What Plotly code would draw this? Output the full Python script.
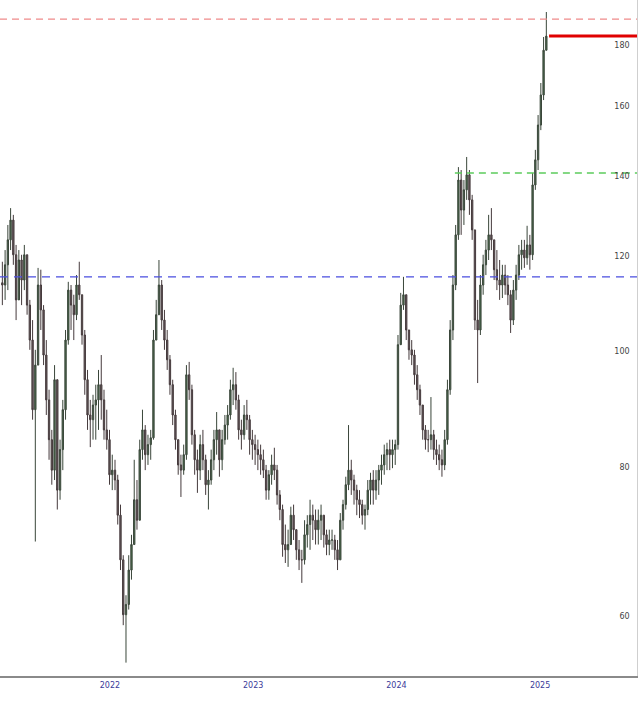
import pandas as pd
import plotly.graph_objects as go

# weekly bars, first week ending 2021-04-02
week_start = "2021-04-02"
first_open = 114.0

highs = [
    118.7, 121.4, 127.4, 131.6, 129.9, 122.6, 121.4, 120.3, 122.6, 120.3,
    110.3, 106.1, 100.2, 117.3, 116.9, 109.2, 102.1, 92.8, 85.9, 97.3,
    94.6, 84.3, 91.0, 104.1, 114.2, 113.5, 111.4, 115.7, 118.7, 111.4,
    104.1, 96.4, 91.0, 91.9, 93.7, 96.4, 99.2, 92.8, 89.3, 85.9,
    81.9, 81.1, 78.8, 74.4, 67.5, 62.5, 67.5, 70.2, 81.1, 78.0,
    84.3, 89.3, 86.7, 85.1, 85.9, 104.1, 110.3, 119.1, 114.6, 108.2,
    104.1, 99.2, 94.6, 89.3, 84.3, 81.9, 83.5, 97.3, 97.9, 93.7,
    85.9, 82.7, 85.1, 85.9, 81.9, 79.5, 82.7, 85.9, 88.9, 84.3,
    85.9, 88.4, 90.1, 94.6, 96.8, 96.0, 91.9, 87.6, 90.1, 91.0,
    88.4, 85.9, 85.1, 84.3, 83.5, 82.7, 80.3, 79.5, 81.9, 83.0,
    80.3, 76.5, 74.4, 71.6, 70.9, 74.1, 74.4, 70.9, 69.5, 68.2,
    72.2, 72.9, 75.1, 74.4, 73.7, 73.7, 74.4, 72.9, 70.9, 70.9,
    70.9, 70.2, 69.5, 73.2, 75.1, 78.5, 86.7, 81.1, 78.8, 77.3,
    76.5, 75.1, 74.4, 78.0, 79.1, 79.5, 79.5, 80.3, 81.9, 83.5,
    83.8, 84.3, 84.3, 84.3, 103.1, 111.8, 115.3, 110.3, 103.1, 102.1,
    100.2, 97.3, 93.7, 90.1, 86.7, 85.9, 91.5, 85.9, 84.3, 83.5,
    82.7, 85.9, 94.6, 106.1, 115.7, 127.4, 142.4, 141.6, 138.9, 145.2,
    141.6, 135.0, 126.2, 110.3, 115.7, 120.3, 123.8, 129.9, 131.6, 123.8,
    121.4, 119.1, 118.0, 118.0, 115.7, 112.4, 114.6, 118.0, 122.6, 123.8,
    123.8, 127.2, 125.0, 140.8, 147.2, 157.4, 167.4, 182.9, 191.9,
]

lows = [
    109.2, 110.3, 112.4, 121.4, 118.0, 106.1, 110.3, 109.2, 112.4, 107.2,
    100.2, 87.6, 69.3, 98.3, 104.1, 97.3, 88.4, 81.1, 77.3, 78.0,
    73.7, 75.1, 79.5, 87.6, 101.2, 104.1, 102.1, 106.1, 110.3, 101.2,
    91.9, 85.9, 83.1, 84.3, 84.3, 85.9, 87.6, 84.3, 82.7, 77.3,
    76.5, 76.5, 71.6, 65.6, 59.0, 54.9, 60.8, 64.4, 70.2, 70.9,
    72.2, 81.1, 79.5, 80.3, 81.1, 84.3, 104.1, 109.2, 104.1, 100.2,
    96.4, 91.9, 86.7, 82.7, 78.8, 75.5, 78.8, 81.1, 91.0, 83.5,
    78.8, 76.1, 78.0, 79.5, 75.8, 73.7, 77.3, 79.5, 81.9, 78.5,
    79.5, 83.5, 84.3, 87.6, 90.1, 89.3, 84.3, 82.7, 84.3, 85.9,
    81.9, 81.1, 80.3, 79.5, 78.8, 78.3, 75.1, 75.1, 77.3, 78.0,
    74.4, 72.2, 67.3, 66.5, 66.0, 68.9, 69.5, 66.9, 65.6, 64.0,
    66.3, 68.5, 68.2, 69.5, 68.9, 68.9, 69.5, 68.5, 67.5, 67.5,
    68.2, 66.9, 65.6, 66.9, 70.9, 73.7, 76.5, 75.8, 74.4, 72.9,
    72.5, 71.6, 70.9, 72.9, 74.4, 74.4, 75.1, 75.8, 77.3, 78.8,
    79.5, 79.5, 79.8, 80.3, 82.7, 102.1, 108.2, 102.1, 98.3, 97.3,
    93.7, 91.0, 88.4, 84.3, 82.7, 82.3, 82.7, 81.1, 80.3, 79.5,
    78.5, 79.5, 83.5, 91.9, 102.1, 112.4, 123.8, 125.0, 127.4, 133.7,
    129.9, 123.8, 104.1, 94.0, 103.1, 111.4, 115.7, 119.1, 121.4, 114.6,
    112.4, 110.3, 110.7, 111.4, 109.2, 103.5, 105.1, 110.3, 114.6, 116.9,
    117.3, 118.0, 116.9, 119.1, 136.3, 141.6, 152.9, 162.0, 178.3,
]

closes = [
    113.5, 118.0, 123.8, 128.6, 120.3, 110.3, 119.1, 114.6, 120.3, 109.2,
    102.1, 89.3, 97.3, 113.5, 108.2, 99.2, 91.0, 84.3, 79.5, 94.6,
    76.5, 82.7, 89.3, 102.1, 112.4, 109.2, 107.2, 113.5, 111.4, 103.1,
    94.6, 88.4, 87.6, 90.1, 91.0, 93.7, 91.0, 85.9, 84.3, 78.8,
    79.5, 78.0, 72.9, 66.9, 60.2, 61.4, 65.6, 68.9, 75.1, 72.2,
    82.7, 85.9, 81.9, 83.5, 84.6, 102.1, 107.2, 113.5, 106.1, 102.1,
    98.3, 93.7, 88.4, 84.3, 80.3, 79.5, 81.9, 95.5, 92.8, 85.1,
    81.1, 79.5, 83.5, 81.1, 77.3, 78.0, 81.1, 84.3, 85.9, 81.1,
    84.3, 86.7, 88.4, 92.8, 93.7, 91.0, 85.9, 85.1, 88.4, 87.6,
    84.3, 83.5, 82.7, 81.9, 81.1, 79.5, 76.5, 78.8, 80.3, 79.5,
    75.8, 73.7, 68.9, 68.2, 68.9, 72.9, 70.9, 68.2, 66.9, 66.9,
    70.2, 71.6, 72.9, 72.2, 70.9, 72.2, 72.9, 70.2, 68.9, 69.5,
    69.5, 68.2, 66.9, 72.2, 74.4, 77.3, 79.5, 78.0, 76.5, 75.1,
    74.4, 72.9, 73.7, 76.5, 78.0, 76.5, 78.0, 79.5, 80.3, 81.9,
    82.7, 81.9, 82.7, 83.5, 101.2, 109.2, 111.4, 104.1, 100.2, 99.2,
    95.5, 92.8, 90.1, 85.9, 84.3, 84.3, 85.1, 82.7, 81.9, 81.1,
    80.3, 84.3, 92.8, 104.1, 113.5, 125.0, 138.9, 131.1, 136.3, 140.3,
    133.7, 126.2, 106.1, 104.1, 113.5, 118.0, 121.4, 125.0, 123.8, 116.9,
    114.6, 113.5, 115.7, 113.5, 111.4, 106.1, 112.4, 115.7, 120.3, 121.4,
    119.6, 122.6, 120.3, 137.6, 144.4, 154.4, 163.6, 178.3, 183.2,
]

# reference levels drawn on the chart
resistance_top = 189.3      # red dashed
last_close_level = 183.2    # red solid
breakout_level = 140.8      # green dashed
support_level = 115.3       # blue dashed

y_ticks = [60, 80, 100, 120, 140, 160, 180]
x_ticks = ["2022-01-01", "2023-01-01", "2024-01-01", "2025-01-01"]
x_tick_text = ["2022", "2023", "2024", "2025"]

x_start, x_end = "2021-03-27", "2025-09-05"
green_start = "2024-05-29"
red_start = "2025-01-24"

dates = pd.date_range(week_start, periods=len(closes), freq="7D")
opens = [first_open] + closes[:-1]
highs = [max(h, o, c) for h, o, c in zip(highs, opens, closes)]
lows = [min(l, o, c) for l, o, c in zip(lows, opens, closes)]

fig = go.Figure()


def level(y, x0, x1, color, dash, width):
    fig.add_trace(go.Scatter(
        x=[x0, x1], y=[y, y], mode="lines",
        line=dict(color=color, dash=dash, width=width),
        hoverinfo="skip", showlegend=False,
    ))


level(resistance_top, x_start, x_end, "#f08a8a", "7px,5px", 1.3)
level(support_level, x_start, x_end, "#4a4ee0", "8px,6px", 1.3)
level(breakout_level, green_start, x_end, "#5ccc5c", "7px,5px", 1.3)

fig.add_trace(go.Candlestick(
    x=dates, open=opens, high=highs, low=lows, close=closes,
    increasing=dict(line=dict(color="#3a463a", width=1), fillcolor="#4a6c4c"),
    decreasing=dict(line=dict(color="#453a3c", width=1), fillcolor="#66585c"),
    whiskerwidth=0, showlegend=False,
))

level(last_close_level, red_start, x_end, "#e00000", "solid", 3)

fig.update_layout(
    width=640, height=705,
    margin=dict(l=0, r=3, t=0, b=29),
    paper_bgcolor="white", plot_bgcolor="white",
    showlegend=False, hovermode=False,
    font=dict(family="DejaVu Sans", size=8, color="#3a3a9a"),
)
fig.update_xaxes(
    range=[x_start, x_end], rangeslider_visible=False,
    tickvals=x_ticks, ticktext=x_tick_text, ticks="",
    showgrid=False, zeroline=False,
    showline=True, linecolor="#8a8a8a", linewidth=2,
)
fig.update_yaxes(
    type="log", range=[1.7284, 2.2931], side="right",
    tickvals=y_ticks, ticklabelposition="inside", ticks="",
    ticklabelstandoff=6,
    showgrid=False, zeroline=False,
    showline=True, linecolor="#cfcfcf", linewidth=1,
)

# page body has a default 8px margin; drop it so the chart sits at the corner
fig.write_html(
    "out.html",
    config={"displayModeBar": False},
    post_script="document.body.style.margin='0';",
)
